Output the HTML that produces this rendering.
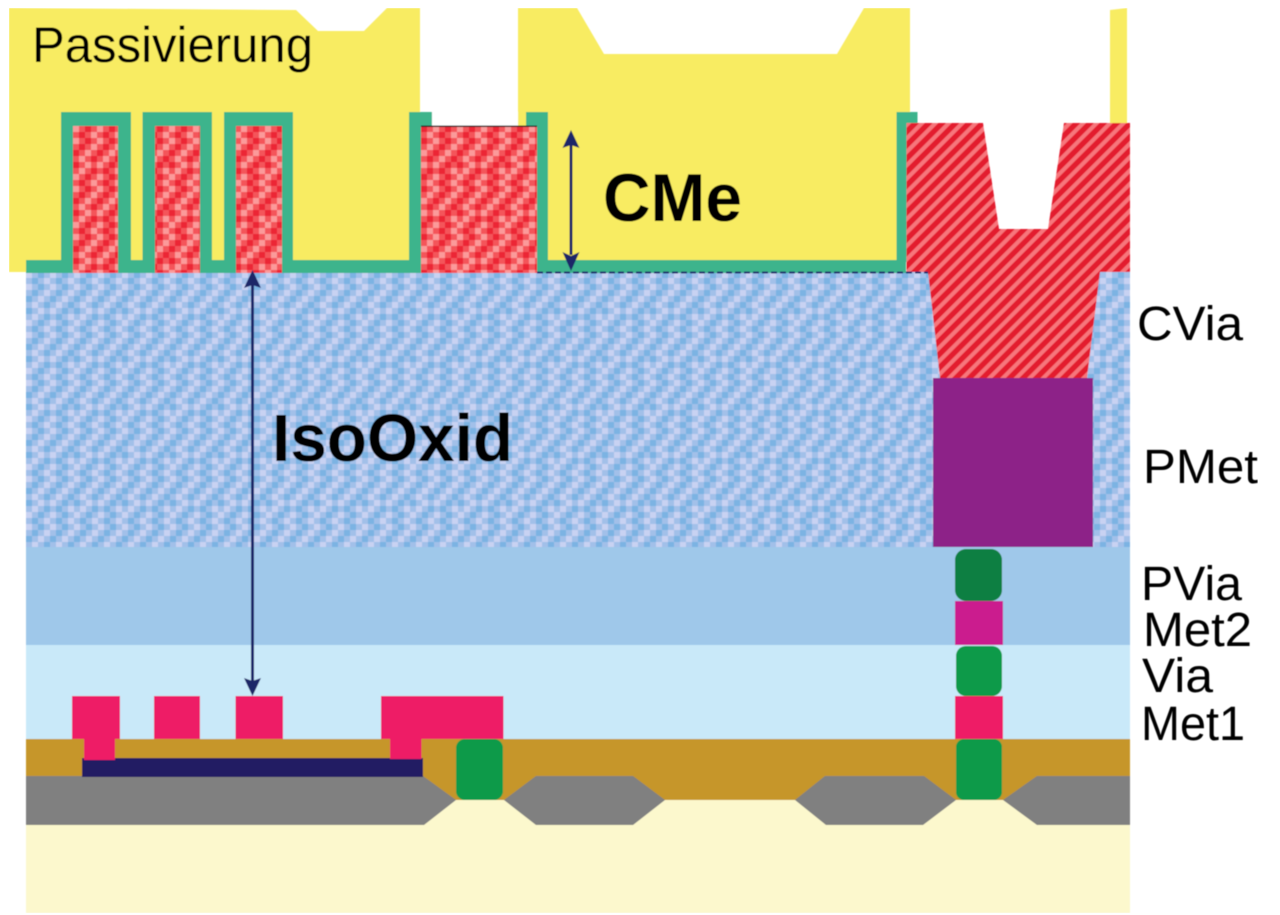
<!DOCTYPE html>
<html>
<head>
<meta charset="utf-8">
<style>
html,body{margin:0;padding:0;background:#fff;width:1280px;height:915px;overflow:hidden}
svg{display:block}
text{font-family:"Liberation Sans",sans-serif;fill:#000}
</style>
</head>
<body>
<svg width="1280" height="915" viewBox="0 0 1280 915" xmlns="http://www.w3.org/2000/svg">
<defs>
<pattern id="blue" width="48" height="48" patternUnits="userSpaceOnUse" x="26" y="272">
<rect width="48" height="48" fill="#a2c0e9"/>
<path fill="#c8d2f2" d="M0 0h6v6h-6zM24 0h6v6h-6zM18 6h6v6h-6zM42 6h6v6h-6zM0 12h6v6h-6zM24 12h6v6h-6zM18 18h6v6h-6zM42 18h6v6h-6zM12 24h6v6h-6zM36 24h6v6h-6zM6 30h6v6h-6zM30 30h6v6h-6zM12 36h6v6h-6zM24 36h6v6h-6zM6 42h6v6h-6zM42 42h6v6h-6z"/>
<path fill="#7bb3e3" d="M12 0h6v6h-6zM36 0h6v6h-6zM6 6h6v6h-6zM30 6h6v6h-6zM12 12h6v6h-6zM36 12h6v6h-6zM6 18h6v6h-6zM30 18h6v6h-6zM0 24h6v6h-6zM24 24h6v6h-6zM18 30h6v6h-6zM42 30h6v6h-6zM0 36h6v6h-6zM36 36h6v6h-6zM18 42h6v6h-6zM30 42h6v6h-6z"/>
</pattern>
<pattern id="red" width="48" height="48" patternUnits="userSpaceOnUse" x="73" y="126">
<rect width="48" height="48" fill="#f4555a"/>
<path fill="#fb9a9a" d="M0 0h6v6h-6zM24 0h6v6h-6zM18 6h6v6h-6zM42 6h6v6h-6zM0 12h6v6h-6zM24 12h6v6h-6zM18 18h6v6h-6zM42 18h6v6h-6zM12 24h6v6h-6zM36 24h6v6h-6zM6 30h6v6h-6zM30 30h6v6h-6zM12 36h6v6h-6zM24 36h6v6h-6zM6 42h6v6h-6zM42 42h6v6h-6z"/>
<path fill="#ec2835" d="M12 0h6v6h-6zM36 0h6v6h-6zM6 6h6v6h-6zM30 6h6v6h-6zM12 12h6v6h-6zM36 12h6v6h-6zM6 18h6v6h-6zM30 18h6v6h-6zM0 24h6v6h-6zM24 24h6v6h-6zM18 30h6v6h-6zM42 30h6v6h-6zM0 36h6v6h-6zM36 36h6v6h-6zM18 42h6v6h-6zM30 42h6v6h-6z"/>
</pattern>
<pattern id="stripe" width="9.500" height="9.500" patternUnits="userSpaceOnUse" patternTransform="rotate(45)">
<rect width="9.500" height="9.500" fill="#e31a2e"/>
<rect x="5.500" width="4" height="9.500" fill="#f7767c"/>
</pattern>
<filter id="soft" x="0" y="0" width="100%" height="100%"><feGaussianBlur stdDeviation="0.6"/></filter>
</defs>

<g filter="url(#soft)">
<!-- yellow passivation -->
<polygon fill="#f8ec62" points="9,8 296,10 318,31 364,31 387,8 420,8 420,130 518,130 518,8 577,8 604,54 837,54 864,8 910,8 910,130 905,272 9,272"/>
<polygon fill="#f8ec62" points="1110,10 1127,8 1127,125 1110,125"/>
<rect x="421" y="112" width="97" height="14" fill="#fff"/>

<!-- layers -->
<rect x="26" y="739" width="1104" height="61" fill="#c6962a"/>
<rect x="26" y="800" width="1104" height="113" fill="#fcf8cd"/>
<rect x="26" y="645" width="1104" height="94" fill="#c9e9f9"/>
<rect x="26" y="547" width="1104" height="98" fill="#9fc8ea"/>
<rect x="26" y="272" width="1104" height="275" fill="url(#blue)"/>

<!-- gray oxide islands -->
<g fill="#808080">
<polygon points="26,776 423,776 456,800 424,825 26,825"/>
<polygon points="504,800 536,776 633,776 665,800 633,825 536,825"/>
<polygon points="795,800 825,776 924,776 956,800 923,825 826,825"/>
<polygon points="1003,800 1037,776 1130,776 1130,825 1037,825"/>
</g>

<!-- green liner -->
<g fill="#3cb48c">
<rect x="26" y="260" width="880" height="13"/>
<rect x="61" y="112" width="70" height="150"/>
<rect x="142.500" y="112" width="69.500" height="150"/>
<rect x="224" y="112" width="69" height="150"/>
<rect x="409" y="112" width="23" height="150"/>
<rect x="526" y="112" width="22" height="150"/>
<rect x="896.500" y="112" width="21" height="150"/>
</g>
<rect x="548" y="126" width="348" height="134" fill="#f8ec62"/>

<!-- red patterned -->
<g fill="url(#red)">
<rect x="73" y="126" width="45" height="147"/>
<rect x="155" y="126" width="45" height="147"/>
<rect x="236" y="126" width="46" height="147"/>
<rect x="421" y="126" width="116" height="147"/>
</g>
<rect x="421" y="125.500" width="116" height="1.500" fill="#222"/>

<!-- CVia stripe metal -->
<polygon fill="url(#stripe)" points="906.500,123 983,123 999,229 1048,229 1064,123 1130,123 1130,272 1100,272 1087,378 940,378 928,272 906.500,272"/>

<!-- PMet and stack -->
<rect x="933" y="378" width="160" height="169" fill="#8d2288"/>
<rect x="955" y="549" width="47" height="52" rx="11" fill="#0f7f42"/>
<rect x="955" y="601" width="48" height="44" fill="#cb1a8e"/>
<rect x="956" y="646" width="46" height="50" rx="10" fill="#0c9a4a"/>
<rect x="955" y="696" width="48" height="43" fill="#ee1a66"/>
<rect x="956" y="739" width="46" height="61" rx="8" fill="#0c9a4a"/>

<!-- left metal 1 -->
<g fill="#ee1a66">
<rect x="72" y="696" width="48" height="43"/>
<rect x="154" y="696" width="46" height="43"/>
<rect x="235.500" y="696" width="47.500" height="43"/>
<rect x="381" y="696" width="122.500" height="43"/>
</g>
<rect x="82" y="758" width="341" height="19" fill="#231f63"/>
<rect x="84" y="739" width="31" height="21" fill="#ee1a66"/>
<rect x="390" y="739" width="31.500" height="20" fill="#ee1a66"/>
<rect x="456" y="739" width="47" height="61" rx="9" fill="#0c9a4a"/>

<!-- dashed line -->
<line x1="537" y1="272.500" x2="928" y2="272.500" stroke="#1e2a6a" stroke-width="2" stroke-dasharray="6 3"/>

<!-- arrows -->
<g stroke="#1f2668" stroke-width="3" fill="none">
<line x1="252.500" y1="285" x2="252.500" y2="684"/>
<line x1="571" y1="145" x2="571" y2="255"/>
</g>
<g fill="#1f2668">
<polygon points="252.500,270 261,288 252.500,285 244,288"/>
<polygon points="252.500,696 261,678 252.500,681 244,678"/>
<polygon points="571,130 579.500,148 571,145 562.500,148"/>
<polygon points="571,271 579.500,252 571,256 562.500,252"/>
</g>

<!-- labels -->
<text x="32" y="62" font-size="50" textLength="281" lengthAdjust="spacingAndGlyphs">Passivierung</text>
<text x="603" y="221" font-size="68" font-weight="bold" textLength="139" lengthAdjust="spacingAndGlyphs">CMe</text>
<text x="272" y="461" font-size="67" font-weight="bold" textLength="241" lengthAdjust="spacingAndGlyphs">IsoOxid</text>
<text x="1137" y="340" font-size="48" textLength="106" lengthAdjust="spacingAndGlyphs">CVia</text>
<text x="1143" y="483" font-size="48" textLength="115" lengthAdjust="spacingAndGlyphs">PMet</text>
<text x="1141" y="600" font-size="48" textLength="101" lengthAdjust="spacingAndGlyphs">PVia</text>
<text x="1143" y="646" font-size="48" textLength="109" lengthAdjust="spacingAndGlyphs">Met2</text>
<text x="1142" y="692" font-size="48" textLength="71" lengthAdjust="spacingAndGlyphs">Via</text>
<text x="1141" y="740" font-size="48" textLength="104" lengthAdjust="spacingAndGlyphs">Met1</text>
</g>
</svg>
</body>
</html>
